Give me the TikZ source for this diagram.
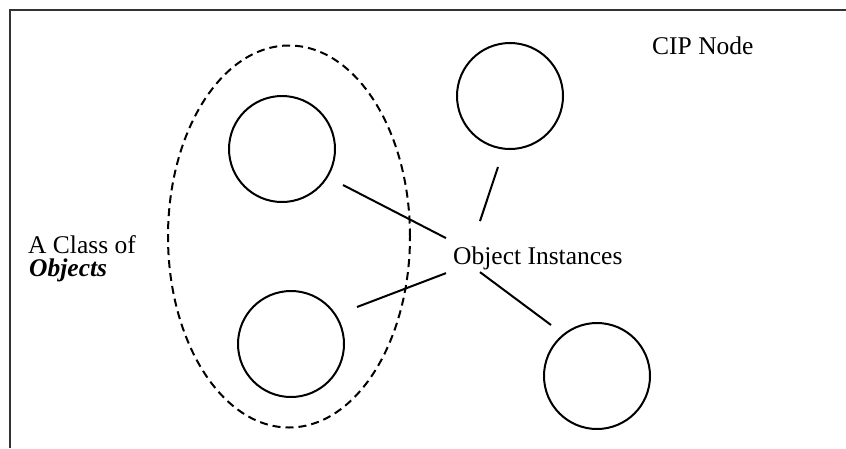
\documentclass[tikz,border=0pt]{standalone}
\usepackage{fontspec}
\setmainfont{Liberation Serif}
\usetikzlibrary{calc,shapes.geometric}
\begin{document}
\begin{tikzpicture}[x=1pt,y=-1pt,
  obj/.style={circle, draw, line width=2pt, minimum size=106pt, inner sep=0pt},
  link/.style={line width=2pt},
  txt/.style={font=\fontsize{25.5}{30}\selectfont, inner sep=0pt, anchor=base west},
  grp/.style={ellipse, draw, line width=2pt, dash pattern=on 8pt off 5pt,
              minimum width=242pt, minimum height=382pt, inner sep=0pt},
  frame/.style={line width=2pt, black!80}]
  \useasboundingbox (0,0) rectangle (846,448);

  % open frame: top and left edges only
  \draw[frame] (9.5,448) -- (9.5,9.5) -- (846,9.5);

  % the class grouping
  \node[grp] (cls) at (289,236.5) {};

  % object instances
  \node[obj] (cA) at (282,149) {};
  \node[obj] (cB) at (291,344) {};
  \node[obj] (cC) at (510,96) {};
  \node[obj] (cD) at (597,376) {};

  % labels
  \node[txt, inner sep=7pt] (oi) at (446,264) {Object Instances};
  \node[txt] (cip) at (652,54) {CIP Node};
  \node[txt, text depth=0pt] (cls1) at (28,253) {A Class of};
  \node[txt, text height=14pt] (cls2) at (29,276) {\textbf{\textit{Objects}}};

  % connectors between instances and their label
  \draw[link] ($(cA)+(61,36)$) -- ($(oi.north west)+(0,-1)$);
  \draw[link] ($(cB)+(66,-37)$) -- ($(oi.south west)+(0,-3.5)$);
  \draw[link] ($(cC)+(-12,71)$) -- ($(oi.north west)+(34,-18)$);
  \draw[link] ($(oi.south west)+(34,-4.5)$) -- ($(cD)+(-46,-51)$);
\end{tikzpicture}
\end{document}
